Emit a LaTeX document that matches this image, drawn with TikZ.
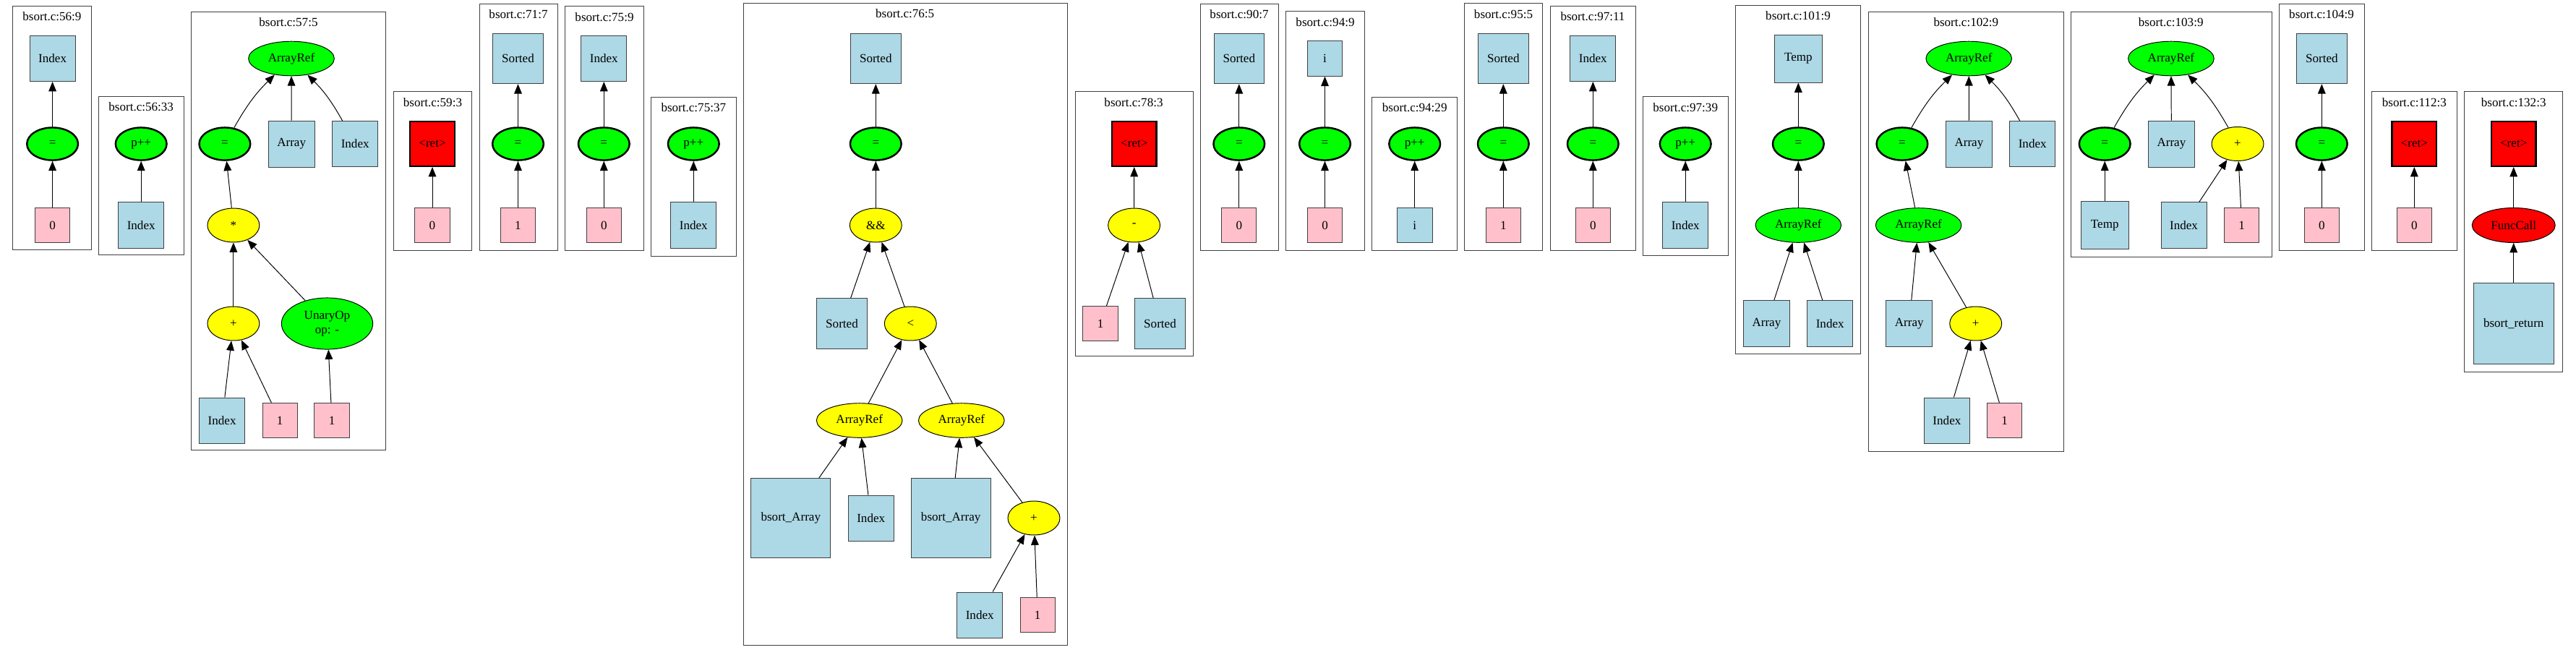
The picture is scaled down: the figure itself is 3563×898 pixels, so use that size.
\documentclass[tikz,border=0pt]{standalone}
\usepackage{fontspec}
\setmainfont{Liberation Serif}
\usetikzlibrary{arrows.meta,shapes.geometric}
\definecolor{varblue}{HTML}{ADD8E6}
\definecolor{litpink}{HTML}{FFC0CB}
\definecolor{opgreen}{HTML}{00FF00}
\definecolor{opyellow}{HTML}{FFFF00}
\definecolor{opred}{HTML}{FF0000}
\tikzset{
	cluster/.style={draw=black!75, line width=0.8pt},
	clabel/.style={inner sep=0pt},
	varbox/.style={rectangle, draw=black!75, line width=0.8pt, fill=varblue, inner sep=0pt, minimum size=#1},
	varbox/.default=51.7pt,
	litbox/.style={rectangle, draw=black!75, line width=0.8pt, fill=litpink, inner sep=0pt, minimum size=39.6pt},
	retbox/.style={rectangle, draw=black, line width=2pt, fill=opred, inner sep=0pt, minimum size=50.5pt},
	assignop/.style={ellipse, draw=black, line width=2pt, fill=opgreen, inner sep=0pt, minimum width=58pt, minimum height=37pt},
	refop/.style={ellipse, draw=black, line width=0.8pt, fill=#1, inner sep=0pt, minimum width=97.3pt, minimum height=39pt},
	refop/.default=opgreen,
	binop/.style={ellipse, draw=black, line width=0.8pt, fill=opyellow, inner sep=0pt, minimum width=59pt, minimum height=38.5pt},
	uplink/.style={draw=black, line width=0.8pt, -{Triangle[length=11pt,width=8.8pt]}},
}

\begin{document}
\begin{tikzpicture}[x=0.82pt, y=-0.82pt, font=\fontsize{14pt}{16pt}\selectfont]
			%%%%% START %%%%%
			\useasboundingbox (0,0) rectangle (3563,898);
			
			\draw[cluster] (17.5,8.1) rectangle (126.3,345.5);
			\node[clabel] (lA) at (71.9,22.6) {bsort.c:56:9};
			\node[varbox] (AIdx) at (72.6,81) {Index};
			\node[assignop] (AEq) at (72.6,199) {=};
			\node[litbox] (AZero) at (72.6,311.5) {0};
			\draw[uplink] (AZero) -- (AEq);
			\draw[uplink] (AEq) -- (AIdx);
			
			\draw[cluster] (136.8,133.3) rectangle (254,352.4);
			\node[clabel] (lB) at (195.2,147.8) {bsort.c:56:33};
			\node[assignop] (BInc) at (195.2,199) {p++};
			\node[varbox] (BIdx) at (195.2,311.5) {Index};
			\draw[uplink] (BIdx) -- (BInc);
			
			\draw[cluster] (264.5,16.3) rectangle (533.8,622);
			\node[clabel] (lC) at (399,30.8) {bsort.c:57:5};
			\node[refop] (CRef) at (403,81) {ArrayRef};
			\node[assignop] (CEq) at (310.9,199) {=};
			\node[varbox=52.5pt] (CArr) at (403.2,199) {Array};
			\node[varbox] (CIdx) at (491.2,199) {Index};
			\node[binop] (CMul) at (322.9,311.5) {*};
			\node[binop] (CAdd) at (322.9,447.5) {+};
			\node[ellipse, draw=black, line width=0.8pt, fill=opgreen, inner sep=0pt, minimum width=103.6pt, minimum height=58.3pt, align=center] (CNeg) at (452.5,447.5) {UnaryOp\\op: -};
			\node[varbox] (CIdx2) at (307.1,581.5) {Index};
			\node[litbox] (COne) at (387.2,581.5) {1};
			\node[litbox] (COne2) at (459.1,581.5) {1};
			\draw[uplink] (CEq) to[bend left=8] (CRef);
			\draw[uplink] (CArr) -- (CRef);
			\draw[uplink] (CIdx) to[bend right=8] (CRef);
			\draw[uplink] (CMul) -- (CEq);
			\draw[uplink] (CAdd) -- (CMul);
			\draw[uplink] (CNeg) -- (CMul);
			\draw[uplink] (CIdx2) -- (CAdd);
			\draw[uplink] (COne) -- (CAdd);
			\draw[uplink] (COne2) -- (CNeg);
			
			\draw[cluster] (544.3,126.7) rectangle (652.7,346.7);
			\node[clabel] (lD) at (598.5,141.2) {bsort.c:59:3};
			\node[retbox] (DRet) at (598,199) {<ret>};
			\node[litbox] (DZero) at (598,311.5) {0};
			\draw[uplink] (DZero) -- (DRet);
			
			\draw[cluster] (663.3,5) rectangle (771.3,346.7);
			\node[clabel] (lE) at (717,19.5) {bsort.c:71:7};
			\node[varbox=57pt] (ESorted) at (716.5,81) {Sorted};
			\node[assignop] (EEq) at (716.5,199) {=};
			\node[litbox] (EOne) at (716.5,311.5) {1};
			\draw[uplink] (EOne) -- (EEq);
			\draw[uplink] (EEq) -- (ESorted);
			
			\draw[cluster] (781.7,8.7) rectangle (890,346.7);
			\node[clabel] (lF) at (836,23.2) {bsort.c:75:9};
			\node[varbox] (FIdx) at (835.3,81) {Index};
			\node[assignop] (FEq) at (835.3,199) {=};
			\node[litbox] (FZero) at (835.3,311.5) {0};
			\draw[uplink] (FZero) -- (FEq);
			\draw[uplink] (FEq) -- (FIdx);
			
			\draw[cluster] (900.7,134) rectangle (1018,354);
			\node[clabel] (lG) at (959.3,148.5) {bsort.c:75:37};
			\node[assignop] (GInc) at (959.3,199) {p++};
			\node[varbox] (GIdx) at (959.3,311.5) {Index};
			\draw[uplink] (GIdx) -- (GInc);
			
			\draw[cluster] (1028.3,4.6) rectangle (1476.7,892.3);
			\node[clabel] (lH) at (1251.7,19.1) {bsort.c:76:5};
			\node[varbox=57pt] (HSorted) at (1211.3,81) {Sorted};
			\node[assignop] (HEq) at (1211.3,199) {=};
			\node[binop] (HAnd) at (1211.3,311.5) {\&\&};
			\node[varbox=57pt] (HSorted2) at (1164.5,447.5) {Sorted};
			\node[binop] (HLess) at (1259.3,447.5) {<};
			\node[refop=opyellow] (HRefL) at (1188.7,581.5) {ArrayRef};
			\node[refop=opyellow] (HRefR) at (1329.8,581.5) {ArrayRef};
			\node[varbox=90.2pt] (HArrL) at (1093.8,716.5) {bsort\_Array};
			\node[varbox] (HIdx) at (1204.7,716.5) {Index};
			\node[varbox=90.2pt] (HArrR) at (1315.2,716.5) {bsort\_Array};
			\node[binop] (HAdd) at (1430,716.5) {+};
			\node[varbox] (HIdx2) at (1355.2,850.5) {Index};
			\node[litbox] (HOne) at (1435.2,850.5) {1};
			\draw[uplink] (HEq) -- (HSorted);
			\draw[uplink] (HAnd) -- (HEq);
			\draw[uplink] (HSorted2) -- (HAnd);
			\draw[uplink] (HLess) -- (HAnd);
			\draw[uplink] (HRefL) -- (HLess);
			\draw[uplink] (HRefR) -- (HLess);
			\draw[uplink] (HArrL) -- (HRefL);
			\draw[uplink] (HIdx) -- (HRefL);
			\draw[uplink] (HArrR) -- (HRefR);
			\draw[uplink] (HAdd) -- (HRefR);
			\draw[uplink] (HIdx2) -- (HAdd);
			\draw[uplink] (HOne) -- (HAdd);
			
			\draw[cluster] (1487.1,126.7) rectangle (1650,492.7);
			\node[clabel] (lI) at (1568,141.2) {bsort.c:78:3};
			\node[retbox] (IRet) at (1568.8,199) {<ret>};
			\node[binop] (IMinus) at (1568.6,311.5) {-};
			\node[litbox] (IOne) at (1522.1,447.5) {1};
			\node[varbox=57pt] (ISorted) at (1604.5,447.5) {Sorted};
			\draw[uplink] (IMinus) -- (IRet);
			\draw[uplink] (IOne) -- (IMinus);
			\draw[uplink] (ISorted) -- (IMinus);
			
			\draw[cluster] (1660.7,5) rectangle (1768.6,346.7);
			\node[clabel] (lJ) at (1714,19.5) {bsort.c:90:7};
			\node[varbox=57pt] (JSorted) at (1713.8,81) {Sorted};
			\node[assignop] (JEq) at (1713.8,199) {=};
			\node[litbox] (JZero) at (1713.8,311.5) {0};
			\draw[uplink] (JZero) -- (JEq);
			\draw[uplink] (JEq) -- (JSorted);
			
			\draw[cluster] (1778.9,15.7) rectangle (1887.1,346.7);
			\node[clabel] (lK) at (1833,30.2) {bsort.c:94:9};
			\node[varbox=39.8pt] (Ki) at (1832.5,81) {i};
			\node[assignop] (KEq) at (1832.5,199) {=};
			\node[litbox] (KZero) at (1832.5,311.5) {0};
			\draw[uplink] (KZero) -- (KEq);
			\draw[uplink] (KEq) -- (Ki);
			
			\draw[cluster] (1897.9,134) rectangle (2015.4,346.7);
			\node[clabel] (lL) at (1956.7,148.5) {bsort.c:94:29};
			\node[assignop] (LInc) at (1956.7,199) {p++};
			\node[varbox=39.8pt] (Li) at (1956.7,311.5) {i};
			\draw[uplink] (Li) -- (LInc);
			
			\draw[cluster] (2025.7,4.9) rectangle (2133.6,346.9);
			\node[clabel] (lM) at (2079.5,19.4) {bsort.c:95:5};
			\node[varbox=57pt] (MSorted) at (2079.3,81) {Sorted};
			\node[assignop] (MEq) at (2079.3,199) {=};
			\node[litbox] (MOne) at (2079.3,311.5) {1};
			\draw[uplink] (MOne) -- (MEq);
			\draw[uplink] (MEq) -- (MSorted);
			
			\draw[cluster] (2144.3,8.2) rectangle (2262.1,346.9);
			\node[clabel] (lN) at (2203,22.7) {bsort.c:97:11};
			\node[varbox] (NIdx) at (2203.3,81) {Index};
			\node[assignop] (NEq) at (2203.3,199) {=};
			\node[litbox] (NZero) at (2203.3,311.5) {0};
			\draw[uplink] (NZero) -- (NEq);
			\draw[uplink] (NEq) -- (NIdx);
			
			\draw[cluster] (2272.9,133.9) rectangle (2390,353.9);
			\node[clabel] (lO) at (2331.2,148.4) {bsort.c:97:39};
			\node[assignop] (OInc) at (2331.2,199) {p++};
			\node[varbox] (OIdx) at (2331.2,311.5) {Index};
			\draw[uplink] (OIdx) -- (OInc);
			
			\draw[cluster] (2400.7,7.3) rectangle (2573.9,489.8);
			\node[clabel] (lP) at (2487,21.8) {bsort.c:101:9};
			\node[varbox=54.1pt] (PTemp) at (2487.3,81) {Temp};
			\node[assignop] (PEq) at (2487.3,199) {=};
			\node[refop] (PRef) at (2487.3,311.5) {ArrayRef};
			\node[varbox=52.5pt] (PArr) at (2443.4,447.5) {Array};
			\node[varbox] (PIdx) at (2531.2,447.5) {Index};
			\draw[uplink] (PEq) -- (PTemp);
			\draw[uplink] (PRef) -- (PEq);
			\draw[uplink] (PArr) -- (PRef);
			\draw[uplink] (PIdx) -- (PRef);
			
			\draw[cluster] (2584.3,16.3) rectangle (2854.3,624.5);
			\node[clabel] (lQ) at (2719.3,30.8) {bsort.c:102:9};
			\node[refop] (QRef) at (2723.2,81) {ArrayRef};
			\node[assignop] (QEq) at (2630.9,199) {=};
			\node[varbox=52.5pt] (QArr) at (2723.4,199) {Array};
			\node[varbox] (QIdx) at (2811.2,199) {Index};
			\node[refop] (QRef2) at (2653.6,311.5) {ArrayRef};
			\node[varbox=52.5pt] (QArr2) at (2640.7,447.5) {Array};
			\node[binop] (QAdd) at (2732.7,447.5) {+};
			\node[varbox] (QIdx2) at (2692.9,581.5) {Index};
			\node[litbox] (QOne) at (2772.7,581.5) {1};
			\draw[uplink] (QEq) to[bend left=8] (QRef);
			\draw[uplink] (QArr) -- (QRef);
			\draw[uplink] (QIdx) to[bend right=8] (QRef);
			\draw[uplink] (QRef2) -- (QEq);
			\draw[uplink] (QArr2) -- (QRef2);
			\draw[uplink] (QAdd) -- (QRef2);
			\draw[uplink] (QIdx2) -- (QAdd);
			\draw[uplink] (QOne) -- (QAdd);
			
			\draw[cluster] (2864.6,16.3) rectangle (3142,355.1);
			\node[clabel] (lR) at (3002.7,30.8) {bsort.c:103:9};
			\node[refop] (RRef) at (3002.9,81) {ArrayRef};
			\node[assignop] (REq) at (2911.2,199) {=};
			\node[varbox=52.5pt] (RArr) at (3003.4,199) {Array};
			\node[binop] (RAdd) at (3095,199) {+};
			\node[varbox=54.1pt] (RTemp) at (2911.2,311.5) {Temp};
			\node[varbox] (RIdx) at (3020.5,311.5) {Index};
			\node[litbox] (ROne) at (3100.7,311.5) {1};
			\draw[uplink] (REq) to[bend left=8] (RRef);
			\draw[uplink] (RArr) -- (RRef);
			\draw[uplink] (RAdd) to[bend right=8] (RRef);
			\draw[uplink] (RTemp) -- (REq);
			\draw[uplink] (RIdx) -- (RAdd);
			\draw[uplink] (ROne) -- (RAdd);
			
			\draw[cluster] (3152.3,5.2) rectangle (3270,346.9);
			\node[clabel] (lS) at (3211,19.7) {bsort.c:104:9};
			\node[varbox=57pt] (SSorted) at (3211.3,81) {Sorted};
			\node[assignop] (SEq) at (3211.3,199) {=};
			\node[litbox] (SZero) at (3211.3,311.5) {0};
			\draw[uplink] (SZero) -- (SEq);
			\draw[uplink] (SEq) -- (SSorted);
			
			\draw[cluster] (3280.7,126.9) rectangle (3398,346.9);
			\node[clabel] (lT) at (3339.3,141.4) {bsort.c:112:3};
			\node[retbox] (TRet) at (3339.3,199) {<ret>};
			\node[litbox] (TZero) at (3339.3,311.5) {0};
			\draw[uplink] (TZero) -- (TRet);
			
			\draw[cluster] (3408.7,126.9) rectangle (3544.7,514.5);
			\node[clabel] (lU) at (3476.7,141.4) {bsort.c:132:3};
			\node[retbox] (URet) at (3476.7,199) {<ret>};
			\node[ellipse, draw=black, line width=0.8pt, fill=opred, inner sep=0pt, minimum width=94.3pt, minimum height=39.4pt] (UCall) at (3476.7,311.5) {FuncCall};
			\node[varbox=91.3pt] (UBret) at (3476.7,447.5) {bsort\_return};
			\draw[uplink] (UCall) -- (URet);
			\draw[uplink] (UBret) -- (UCall);
			%%%%% END %%%%%
\end{tikzpicture}
\end{document}
